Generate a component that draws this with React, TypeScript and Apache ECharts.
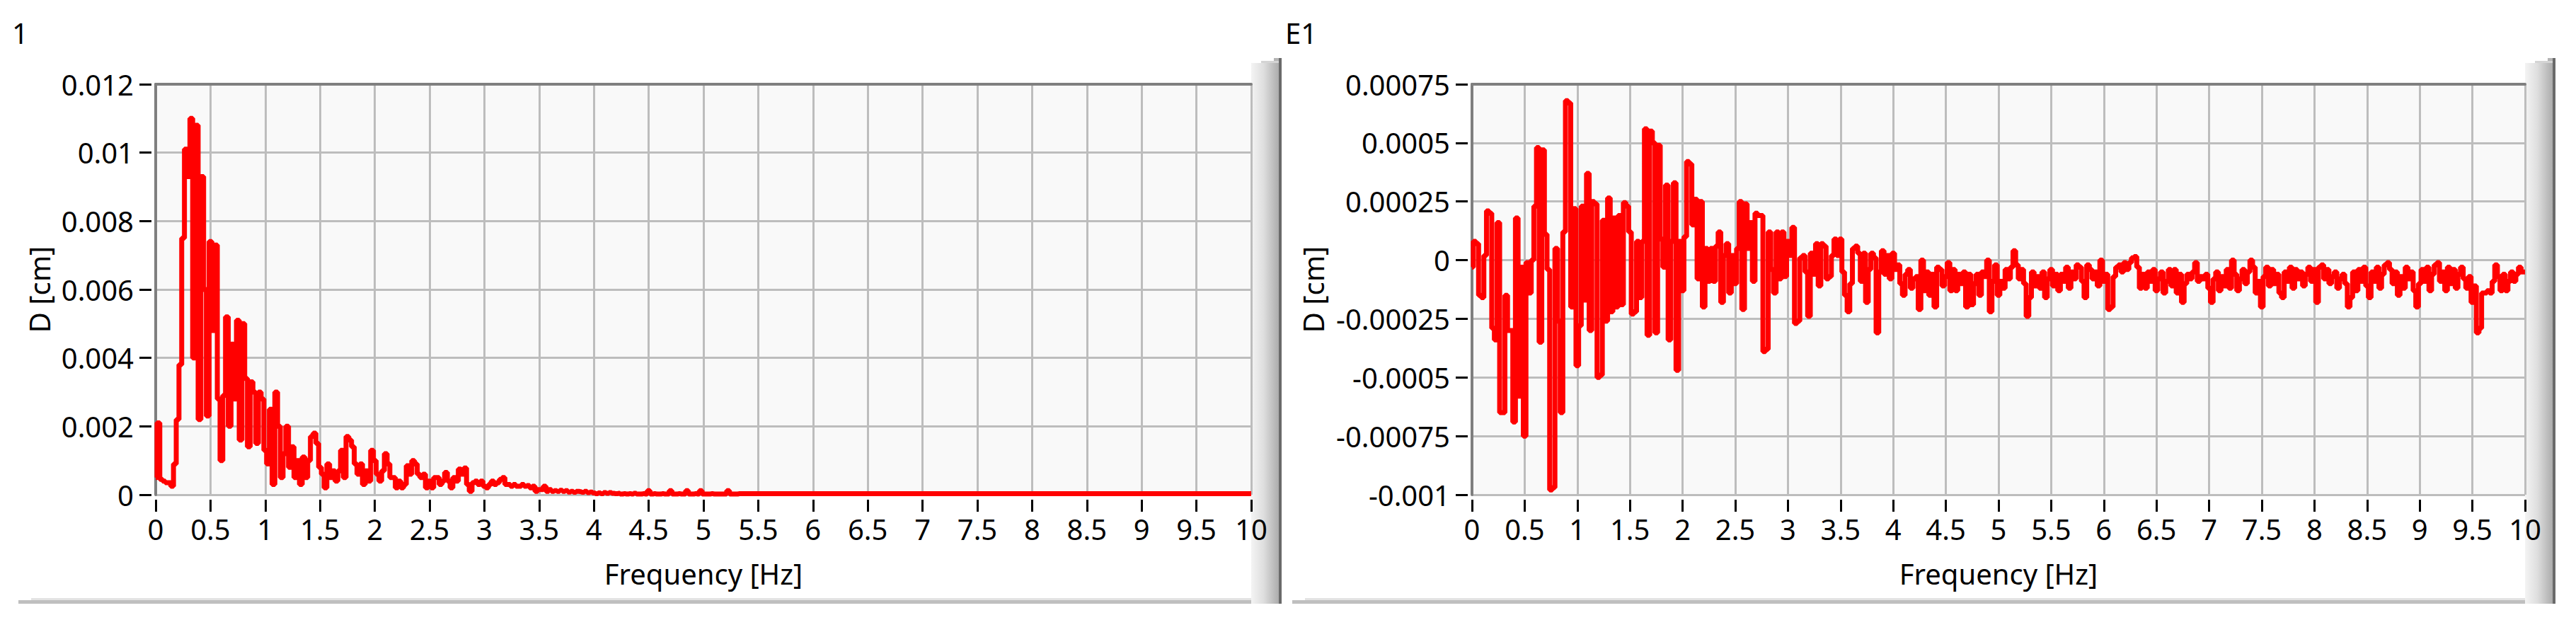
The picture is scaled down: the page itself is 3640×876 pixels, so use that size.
import React, { useEffect, useRef } from "react";
import * as echarts from "echarts";

// ---------- data ----------
const FREQ_STEP = 0.025; // Hz between spectrum samples
const leftTitle = "1";
const rightTitle = "E1";
const xAxisName = "Frequency [Hz]";
const yAxisName = "D [cm]";

const xRange = [0, 10, 0.5]; // min, max, interval
const leftYRange = [0, 0.012, 0.002];
const rightYRange = [-0.001, 0.00075, 0.00025];

// Chart "1": D [cm] sampled every FREQ_STEP Hz from 0 to 5.3 Hz
const leftValues = [
  0.0005, 0.0021, 0.00045, 0.0004, 0.00035, 0.00035, 0.00025, 0.0009, 0.0022, 0.0038,
  0.0075, 0.0101, 0.0093, 0.011, 0.004, 0.0108, 0.0022, 0.0093, 0.006, 0.0023,
  0.0074, 0.0048, 0.0073, 0.0028, 0.001, 0.0029, 0.0052, 0.002, 0.0044, 0.0028,
  0.0051, 0.0016, 0.005, 0.0034, 0.0014, 0.0033, 0.003, 0.0015, 0.003, 0.0028,
  0.0013, 0.0009, 0.0025, 0.0003, 0.003, 0.002, 0.0005, 0.0012, 0.002, 0.0008,
  0.0014, 0.0005, 0.001, 0.0003, 0.0011, 0.0005, 0.001, 0.0017, 0.0018, 0.0015,
  0.0008, 0.0006, 0.0002, 0.0009, 0.0005, 0.0007, 0.0004, 0.0007, 0.0013, 0.0005,
  0.0017, 0.0016, 0.0014, 0.0009, 0.0006, 0.0009, 0.0003, 0.0007, 0.0004, 0.0013,
  0.001, 0.0006, 0.0004, 0.0007, 0.0012, 0.0009, 0.0005, 0.0005, 0.0002, 0.0004,
  0.0002, 0.0003, 0.00085, 0.0006, 0.001, 0.0009, 0.0006, 0.0005, 0.0006, 0.0002,
  0.0004, 0.0002, 0.0005, 0.0005, 0.0003, 0.0004, 0.00065, 0.0004, 0.0002, 0.0005,
  0.0004, 0.00075, 0.0006, 0.00078, 0.0003, 0.0001, 0.00035, 0.0004, 0.0003, 0.0004,
  0.00025, 0.0002, 0.0003, 0.0004, 0.0003, 0.00035, 0.00045, 0.0005, 0.0003, 0.0003,
  0.00025, 0.0003, 0.00025, 0.00025, 0.0003, 0.00025, 0.00027, 0.0002, 0.00025, 0.0001,
  0.00015, 0.00015, 0.00025, 0.0001, 0.00015, 0.0001, 0.00012, 0.0001, 0.00013, 0.0001,
  0.00012, 0.00008, 0.0001, 0.00007, 0.0001, 0.00009, 0.00007, 0.0001, 0.00006, 0.00008,
  0.00005, 0.00003, 0.00005, 0.00003, 0.00006, 0.00004, 0.00006, 0.00004, 0.00003, 0.00004,
  0.00002, 0.00003, 0.00002, 0.00003, 0.00002, 0.00004, 0.00002, 0.00002, 0.00003, 0.00002,
  0.00012, 0.00002, 0.00003, 0.00002, 0.00002, 0.00003, 0.00002, 0.00002, 0.00012, 0.00002,
  0.00002, 0.00003, 0.00002, 0.00002, 0.00012, 0.00002, 0.00002, 0.00003, 0.00002, 0.00012,
  0.00002, 0.00002, 0.00002, 0.00003, 0.00002, 0.00002, 0.00002, 0.00002, 0.00002, 0.00012,
  0.00002, 0.00002, 0.00002,
];
// flat remainder of chart "1"
const leftTailFreq = [5.325, 10];
const leftTailValues = [0.00003, 0.00003];

// Chart "E1": D [cm] sampled every FREQ_STEP Hz from 0 to 10 Hz
const rightValues = [
  -0.00003, 0.00008, 0.00007, -0.00015, -0.00016, 0.00002, 0.00021, 0.0002, -0.00029, -0.00034,
  0.00016, -0.00065, -0.00065, -0.00015, -0.0003, -0.0003, -0.00069, 0.00018, -0.00058, -0.00003,
  -0.00075, -0.00001, -0.00014, 0, 0.00023, 0.00048, -0.00035, 0.00047, 0.00011, -0.00004,
  -0.00098, -0.00097, 0.00005, -0.00026, -0.00065, 0.00012, 0.00068, 0.00067, -0.0002, 0.00022,
  -0.00045, -0.00028, 0.00023, -0.00017, 0.00037, -0.0003, 0.00025, 0.00024, -0.0005, -0.00049,
  0.00017, -0.00026, 0.000265, -0.00022, 0.00018, -0.0002, 0.00019, -0.00019, 0.000245, 0.00023,
  0.00012, -0.00023, -0.00022, 0.00008, -0.00016, 0.00008, 0.00056, -0.00032, 0.00055, 0.0005,
  -0.00031, 0.00049, 0.00009, -0.00003, 0.00032, -0.00034, 0.00008, 0.00033, -0.00047, 0.00008,
  -0.00013, 0.0001, 0.00042, 0.00041, 0.00015, 0.00026, -0.00008, 0.00025, -0.0002, 0.00005,
  -0.00009, 0.00005, -0.00009, 0.00006, 0.00012, -0.00018, 0.00002, 0.00007, -0.00014, 0.00002,
  -0.0001, 0.00005, 0.00025, -0.00021, 0.00024, 0.00005, 0.00016, -0.00009, 0.0002, 0.00019,
  0.00019, -0.00039, -0.00038, 0.00012, -0.00004, -0.00014, 0.00012, -0.00008, 0.00012, -0.00007,
  0.00008, 0.00002, 0.00014, -0.00027, -0.00026, 0.00001, 0.00002, -0.00005, -0.00024, 0.00003,
  -0.00006, 0.00007, -0.00011, 0.00007, 0.00006, -0.00008, -0.00007, 0.00002, 0.00009, 0.00002,
  0.00009, -0.00005, -0.00015, -0.00022, -0.0001, 0.00005, 0.00006, 0.00003, -0.00009, 0.00003,
  -0.00018, -0.00004, 0.00003, 0.00001, -0.00031, -0.00005, 0.00004, -0.00006, 0.00002, -0.00008,
  0.00003,
  -0.00004, -0.00002, -0.0001, -0.00015, -0.00006, -0.00004, -0.00012, -0.00008, -0.00007, -0.00021,
  0, -0.00013, -0.00005, -0.00015, -0.00006, -0.0002, -0.00003, -0.00004, -0.00011, -0.00007,
  -0.00001, -0.00013, -0.00004, -0.00013, -0.00006, -0.0001, -0.00005, -0.0002, -0.00006, -0.00019,
  -0.0001, -0.00006, -0.00015, -0.00005, -0.00007, 0, -0.00022, -0.00009, -0.00002, -0.00015,
  -0.00009, -0.00012, -0.00004, -0.00008, -0.00003, 0.00004, -0.00002, -0.00008, -0.00004, -0.0001,
  -0.00024, -0.00016, -0.00005, -0.00011, -0.00007, -0.00012, -0.00005, -0.00016, -0.00008, -0.00004,
  -0.00011, -0.00006, -0.00013, -0.00006, -0.00009, -0.00003, -0.00012, -0.00005, -0.00008, -0.00002,
  -0.00003, -0.00009, -0.00016, -0.00002, -0.00004, -0.00008, -0.00005, -0.00011, 0, -0.00009,
  -0.00006, -0.00021, -0.0002, -0.00007, -0.00003, -0.00002, -0.00005, -0.00001, -0.00004, -0.00001,
  0.00001, 0.000015, -0.00003, -0.00012, -0.00006, -0.00012, -0.00005, -0.00009, -0.00004, -0.00013,
  -0.00008, -0.00005, -0.00014, -0.00009, -0.00004, -0.00011, -0.00004, -0.00014, -0.00006, -0.00018,
  -0.0001, -0.00006, -0.00008, -0.00005, -0.00001, -0.00009, -0.00007, -0.00008, -0.00006, -0.00012,
  -0.00018, -0.00008, -0.00005, -0.00013, -0.00007, -0.00011, -0.00004, -0.00012, 0, -0.00006,
  -0.00013, -0.00008, -0.00004, -0.0001, -0.00005, 0, -0.00003, -0.00014, -0.00009, -0.0002,
  -0.00007, -0.00003, -0.00011, -0.00004, -0.0001, -0.00006, -0.00014, -0.00016, -0.00005, -0.00009,
  -0.00003, -0.00012, -0.00004, -0.00008, -0.00005, -0.00011, -0.00006, -0.00003, -0.00009, -0.00004,
  -0.00018, -0.00003, -0.00002, -0.00008, -0.00004, -0.0001, -0.00007, -0.00005, -0.00012, -0.00008,
  -0.00006, -0.0001, -0.0002, -0.00016, -0.00005, -0.00013, -0.00004, -0.00009, -0.00003, -0.00011,
  -0.00016, -0.00005, -0.00009, -0.00003, -0.00012, -0.00006, -0.00002, -0.00001, -0.00004, -0.0001,
  -0.00005, -0.00015, -0.00007, -0.00012, -0.00003, -0.00008, -0.00005, -0.00013, -0.0002, -0.0001,
  -0.00004, -0.00009, -0.00003, -0.00013, -0.00006, -0.00002, -0.00001, -0.00009, -0.00005, -0.00013,
  -0.00003, -0.0001, -0.00004, -0.00012, -0.00006, -0.00003, -0.00008, -0.00012, -0.00007, -0.00018,
  -0.00011, -0.00031, -0.00029, -0.00014, -0.00014, -0.00013, -0.00014, -0.00009, -0.00002, -0.00007,
  -0.00013, -0.00006, -0.00013, -0.00009, -0.00005, -0.00009, -0.00006, -0.00003, -0.00005, -0.00005,
];

// ---------- styling ----------
const FONT = "Noto Sans";
const FONT_SIZE = 40;
const RED = "#ff0000";
const GRID_LINE = "#bdbdbd";
const BORDER = "#7f7f7f";

function sampled(values: number[]) {
  return values.map((v, i) => [+(i * FREQ_STEP).toFixed(3), v]);
}

export default function App() {
  const ref = useRef<HTMLDivElement>(null);

  useEffect(() => {
    document.body.style.margin = "0";
    const chart = echarts.init(ref.current!, null, { renderer: "svg" });

    const leftData = sampled(leftValues).concat(
      leftTailFreq.map((f, i) => [f, leftTailValues[i]])
    );
    const rightData = sampled(rightValues);

    const grids = [
      { left: 220, top: 119, width: 1548, height: 580 },
      { left: 2080, top: 119, width: 1488, height: 580 },
    ];
    const yRanges = [leftYRange, rightYRange];
    const yNameGaps = [139, 199];

    const mainX = (g: number) => ({
      type: "value",
      gridIndex: g,
      min: xRange[0],
      max: xRange[1],
      interval: xRange[2],
      position: "bottom",
      offset: 7,
      axisLine: { show: false, onZero: false },
      axisTick: { show: true, length: 17, lineStyle: { color: "#000", width: 3 } },
      axisLabel: { fontSize: FONT_SIZE, color: "#000", margin: 21, fontFamily: FONT },
      splitLine: { show: true, lineStyle: { color: GRID_LINE, width: 3 } },
      name: xAxisName,
      nameLocation: "middle",
      nameGap: 84,
      nameTextStyle: { fontSize: FONT_SIZE, color: "#000", fontFamily: FONT },
    });
    const borderX = (g: number) => ({
      type: "value",
      gridIndex: g,
      min: xRange[0],
      max: xRange[1],
      position: "top",
      axisLine: { show: true, onZero: false, lineStyle: { color: BORDER, width: 4 } },
      axisTick: { show: false },
      axisLabel: { show: false },
      splitLine: { show: false },
    });
    const mainY = (g: number) => ({
      type: "value",
      gridIndex: g,
      min: yRanges[g][0],
      max: yRanges[g][1],
      interval: yRanges[g][2],
      position: "left",
      offset: 6,
      axisLine: { show: false, onZero: false },
      axisTick: { show: true, length: 17, lineStyle: { color: "#000", width: 3 } },
      axisLabel: { fontSize: FONT_SIZE, color: "#000", margin: 25, fontFamily: FONT },
      splitLine: { show: true, lineStyle: { color: GRID_LINE, width: 3 } },
      name: yAxisName,
      nameLocation: "middle",
      nameGap: yNameGaps[g],
      nameTextStyle: { fontSize: FONT_SIZE, color: "#000", fontFamily: FONT },
    });
    const borderY = (g: number) => ({
      type: "value",
      gridIndex: g,
      min: yRanges[g][0],
      max: yRanges[g][1],
      position: "left",
      offset: 0,
      axisLine: { show: true, onZero: false, lineStyle: { color: BORDER, width: 4 } },
      axisTick: { show: false },
      axisLabel: { show: false },
      splitLine: { show: false },
    });

    const bevel = (x: number) => [
      {
        type: "rect",
        z: -1,
        shape: { x, y: 89, width: 39, height: 764 },
        style: {
          fill: new echarts.graphic.LinearGradient(0, 0, 1, 0, [
            { offset: 0, color: "#f4f4f4" },
            { offset: 0.45, color: "#dedede" },
            { offset: 1, color: "#acacac" },
          ]),
        },
      },
      { type: "rect", z: -1, shape: { x: x + 14, y: 86, width: 25, height: 3 }, style: { fill: "#d4d4d4" } },
      { type: "rect", z: -1, shape: { x: x + 32, y: 82, width: 7, height: 4 }, style: { fill: "#b4b4b4" } },
      { type: "rect", z: -1, shape: { x: x + 39, y: 82, width: 4, height: 771 }, style: { fill: "#6a6a6a" } },
    ];
    const bottomLine = (x0: number, x1: number) => [
      { type: "rect", z: -1, shape: { x: x0 + 18, y: 845, width: x1 - x0 - 18, height: 3 }, style: { fill: "#e3e3e3" } },
      { type: "rect", z: -1, shape: { x: x0, y: 848, width: x1 - x0, height: 5 }, style: { fill: "#bfbfbf" } },
    ];

    const option = {
      animation: false,
      backgroundColor: "#ffffff",
      textStyle: { fontFamily: FONT },
      title: [
        { text: leftTitle, left: 17, top: 26, padding: 0, textStyle: { fontSize: FONT_SIZE, fontWeight: "normal", color: "#000", fontFamily: FONT } },
        { text: rightTitle, left: 1816, top: 26, padding: 0, textStyle: { fontSize: FONT_SIZE, fontWeight: "normal", color: "#000", fontFamily: FONT } },
      ],
      grid: grids.map((g) => ({
        ...g,
        show: true,
        backgroundColor: "#f9f9f9",
        borderWidth: 0,
        containLabel: false,
      })),
      xAxis: [mainX(0), mainX(1), borderX(0), borderX(1)],
      yAxis: [mainY(0), mainY(1), borderY(0), borderY(1)],
      series: [
        {
          type: "line",
          xAxisIndex: 0,
          yAxisIndex: 0,
          data: leftData,
          step: "middle",
          showSymbol: false,
          symbol: "none",
          clip: true,
          silent: true,
          lineStyle: { color: RED, width: 7 },
        },
        {
          type: "line",
          xAxisIndex: 1,
          yAxisIndex: 1,
          data: rightData,
          step: "middle",
          showSymbol: false,
          symbol: "none",
          clip: true,
          silent: true,
          lineStyle: { color: RED, width: 7 },
        },
      ],
      graphic: [
        ...bottomLine(26, 1811),
        ...bottomLine(1826, 3611),
        ...bevel(1768),
        ...bevel(3568),
      ],
    };

    chart.setOption(option as any);
    return () => chart.dispose();
  }, []);

  return <div ref={ref} style={{ width: 3640, height: 876 }} />;
}
